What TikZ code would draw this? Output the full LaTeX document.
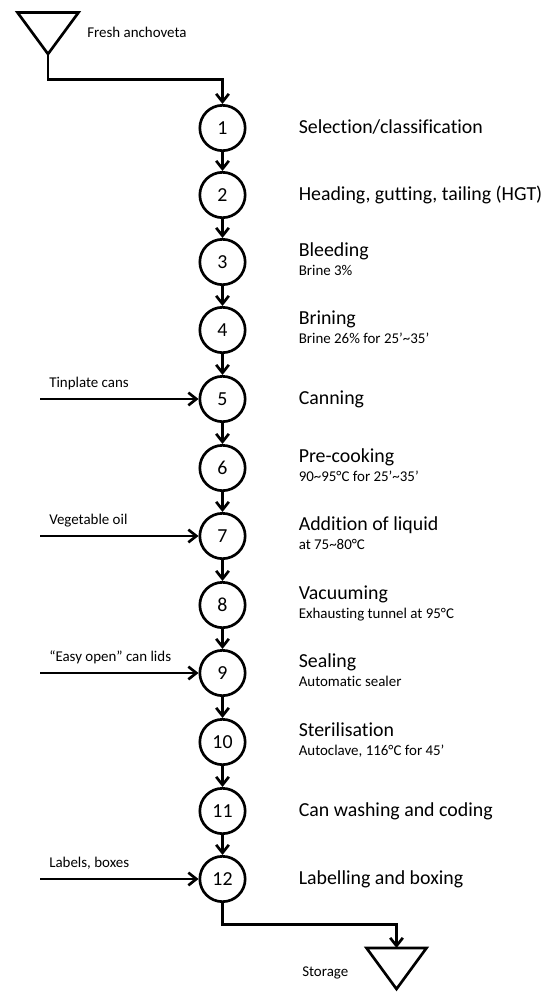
\documentclass[tikz,border=0pt]{standalone}
\usepackage{fontspec}
\setmainfont{Carlito}[Ligatures=NoCommon]
\usetikzlibrary{arrows.meta}

\begin{document}
\begin{tikzpicture}[x=0.75pt,y=-0.75pt]
  \tikzset{
    flow/.style={line width=2pt, -{Straight Barb[length=6pt,width=9.5pt]}},
    stap/.style={circle, draw, line width=2pt, minimum size=34pt, inner sep=0pt, font=\fontsize{14.9}{18}\selectfont},
    bron/.style={draw, line width=2pt, line join=miter},
    hoofd/.style={anchor=base west, inner sep=0pt, font=\fontsize{14.9}{18}\selectfont},
    klein/.style={anchor=base west, inner sep=0pt, font=\fontsize{11.2}{13}\selectfont}
  }
  \useasboundingbox (0,0) rectangle (546,992);

  % Grondstof (bovenaan)
  \draw[bron] (17.5,12.5) -- (78.5,12.5) -- (48,54) -- cycle;
  \coordinate (vers) at (48,54);
  \coordinate (knikboven) at (48,79.5);
  \node[klein] (versTekst) at (87,37.5) {Fresh anchoveta};

  % Processtappen
  \foreach \n/\y in {1/128, 2/195, 3/262, 4/330, 5/399, 6/468, 7/536, 8/605, 9/673, 10/742, 11/811, 12/879}
    \node[stap] (s\n) at (222.5,\y) {\n};
  \foreach \a/\b in {1/2, 2/3, 3/4, 4/5, 5/6, 6/7, 7/8, 8/9, 9/10, 10/11, 11/12}
    \draw[flow] (s\a) -- (s\b);
  \draw[flow] (vers) -- (knikboven) -| (s1.north);

  % Omschrijving, een regel
  \foreach \n/\tekst in {1/{Selection/classification}, 2/{Heading, gutting, tailing (HGT)}, 5/Canning, 11/Can washing and coding, 12/Labelling and boxing}
    \node[hoofd] (t\n) at ([xshift=57pt,yshift=-4.2pt]s\n.center) {\tekst};

  % Omschrijving, twee regels
  \foreach \n/\tekst/\sub in {3/Bleeding/Brine 3\%, 4/Brining/{Brine 26\% for 25’\textasciitilde35’}, 6/Pre-cooking/{90\textasciitilde95°C for 25’\textasciitilde35’}, 7/Addition of liquid/at 75\textasciitilde80°C, 8/Vacuuming/Exhausting tunnel at 95°C, 9/Sealing/Automatic sealer, 10/Sterilisation/{Autoclave, 116°C for 45’}}
  {
    \node[hoofd] (t\n) at ([xshift=57pt,yshift=4.5pt]s\n.center) {\tekst};
    \node[klein] (u\n) at ([xshift=57pt,yshift=-9.75pt]s\n.center) {\sub};
  }

  % Toevoer van opzij
  \foreach \n/\tekst in {5/Tinplate cans, 7/Vegetable oil, 9/{“Easy open” can lids}, 12/{Labels, boxes}}
  {
    \coordinate (in\n) at (s\n.center -| 40,0);
    \draw[flow] (in\n) -- (s\n);
    \node[klein] (l\n) at ([xshift=6.75pt,yshift=9pt]in\n) {\tekst};
  }

  % Opslag (onderaan)
  \draw[bron] (366.5,948) -- (426.5,948) -- (396.5,989) -- cycle;
  \coordinate (opslag) at (396.5,948);
  \coordinate (kniklaag) at (222.5,924.5);
  \draw[flow] (s12.south) -- (kniklaag) -| (opslag);
  \node[klein] (opslagTekst) at (302,976.5) {Storage};
\end{tikzpicture}
\end{document}
